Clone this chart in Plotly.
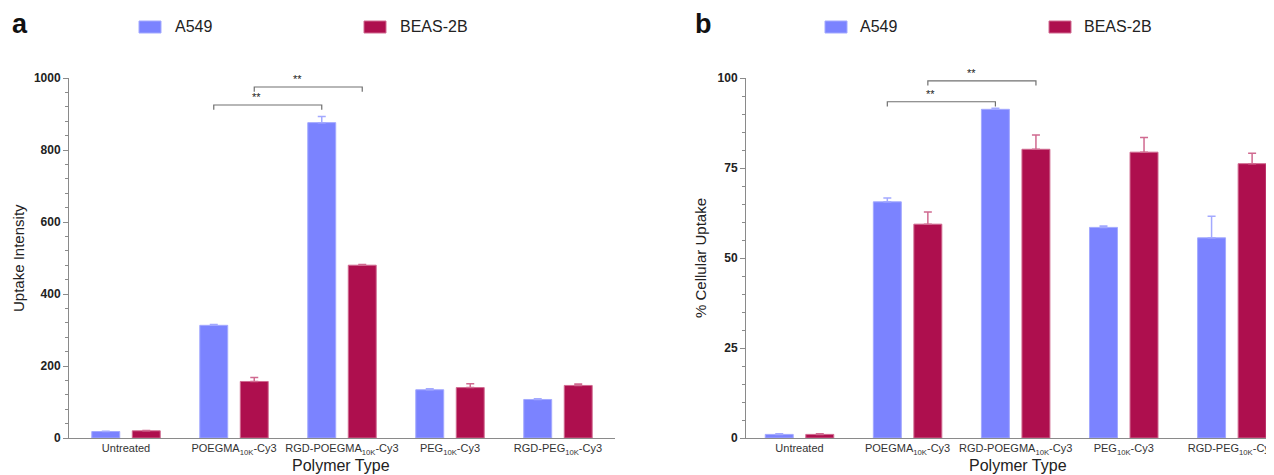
import plotly.graph_objects as go

categories = ["Untreated", "POEGMA<sub>10K</sub>-Cy3", "RGD-POEGMA<sub>10K</sub>-Cy3",
              "PEG<sub>10K</sub>-Cy3", "RGD-PEG<sub>10K</sub>-Cy3"]
series_names = ["A549", "BEAS-2B"]

# Panel a: Uptake intensity
a_a549 = [18, 313, 876, 134, 107]
a_a549_err = [1, 2, 17, 3, 2]
a_beas = [20, 157, 480, 140, 146]
a_beas_err = [1, 11, 2, 11, 4]

# Panel b: % cellular uptake
b_a549 = [1.0, 65.6, 91.3, 58.5, 55.6]
b_a549_err = [0.2, 1.1, 0.3, 0.4, 6.0]
b_beas = [1.0, 59.4, 80.2, 79.4, 76.2]
b_beas_err = [0.2, 3.4, 4.0, 4.1, 2.9]

BLUE = "#7B83FF"
RED = "#AE0F4E"
BLUE_EDGE = "#A3A9FF"
RED_EDGE = "#D06A90"
FONT = "Arial, Liberation Sans, sans-serif"

# The page body adds an 8px margin; the figure is sized to fill the rest of the window.
PAD = 8
W, H = 1274 - PAD, 475 - PAD

def px(X):
    return (X - PAD) / W

def py(Y):
    return 1 - (Y - PAD) / H

fig = go.Figure()

def add_bars(vals, errs, name, color, edge, xa, ya):
    fig.add_trace(go.Bar(
        x=categories, y=vals, name=name, xaxis=xa, yaxis=ya, showlegend=False,
        marker=dict(color=color, line=dict(color=edge, width=1)),
        error_y=dict(type="data", symmetric=False, array=errs,
                     arrayminus=[0] * len(errs), color=edge, thickness=1.5, width=4),
    ))

add_bars(a_a549, a_a549_err, series_names[0], BLUE, BLUE_EDGE, "x", "y")
add_bars(a_beas, a_beas_err, series_names[1], RED, RED_EDGE, "x", "y")
add_bars(b_a549, b_a549_err, series_names[0], BLUE, BLUE_EDGE, "x2", "y2")
add_bars(b_beas, b_beas_err, series_names[1], RED, RED_EDGE, "x2", "y2")

ydom = [py(438), py(78)]
axis_common = dict(showline=True, linecolor="#8A8A8A", linewidth=1, showgrid=False,
                   zeroline=False, automargin=False)
xcommon = dict(axis_common, type="category", ticks="", tickangle=0,
               tickfont=dict(family=FONT, size=11, color="#333333"))
ycommon = dict(axis_common, ticks="outside", ticklen=5, tickcolor="#8A8A8A",
               tickfont=dict(family=FONT, size=12, color="#222222", weight="bold"))

fig.update_layout(
    width=W, height=H, margin=dict(l=0, r=0, t=0, b=0, autoexpand=False),
    paper_bgcolor="white", plot_bgcolor="white", showlegend=False,
    barmode="group", bargap=0.25, bargroupgap=0.31,
    font=dict(family=FONT, color="#222222"),
    xaxis=dict(xcommon, domain=[px(69), px(615)], range=[-0.528, 4.528], anchor="y"),
    yaxis=dict(ycommon, domain=ydom, range=[0, 1000], tickvals=[0, 200, 400, 600, 800, 1000],
               minor=dict(dtick=40, ticks="outside", ticklen=3, tickcolor="#8A8A8A"),
               anchor="x"),
    xaxis2=dict(xcommon, domain=[px(746), 1.0], range=[-0.495, 4.39], anchor="y2"),
    yaxis2=dict(ycommon, domain=ydom, range=[0, 100], tickvals=[0, 25, 50, 75, 100],
                minor=dict(dtick=5, ticks="outside", ticklen=3, tickcolor="#8A8A8A"),
                anchor="x2"),
)

# Legends (one per panel), drawn as coloured keys with text labels
legend_items = [
    (139, 173, BLUE, BLUE_EDGE, series_names[0]),
    (364, 398, RED, RED_EDGE, series_names[1]),
    (825, 858, BLUE, BLUE_EDGE, series_names[0]),
    (1049, 1082, RED, RED_EDGE, series_names[1]),
]
for x0, xt, col, edge, name in legend_items:
    fig.add_shape(type="rect", xref="paper", yref="paper",
                  x0=px(x0), x1=px(x0 + 22), y0=py(33), y1=py(21),
                  fillcolor=col, line=dict(color=edge, width=1))
    fig.add_annotation(x=px(xt), y=py(27), xref="paper", yref="paper", text=name,
                       showarrow=False, xanchor="left", yanchor="middle",
                       font=dict(family=FONT, size=16, color="#222222"))

# Significance brackets (bar-centre offsets follow from the bargap settings)
off = (1 - 0.25) / 4
def bracket(xref, yref, c1, c2, yv, drop, label):
    x1, x2 = c1, c2
    fig.add_shape(type="path", xref=xref, yref=yref,
                  path=f"M {x1},{yv - drop} L {x1},{yv} L {x2},{yv} L {x2},{yv - drop}",
                  line=dict(color="#707070", width=1.2))
    fig.add_annotation(x=(x1 + x2) / 2 - 0.1, y=yv, xref=xref, yref=yref, text=label,
                       showarrow=False, yanchor="bottom", yshift=0,
                       font=dict(family=FONT, size=11, color="#222222"))

bracket("x", "y", 1 - off, 2 - off, 925, 13, "**")
bracket("x", "y", 1 + off, 2 + off, 975, 13, "**")
bracket("x2", "y2", 1 - off, 2 - off, 93.4, 1.3, "**")
bracket("x2", "y2", 1 + off, 2 + off, 99.2, 1.3, "**")

# Panel letters and axis titles
for txt, X in [("a", 20), ("b", 703)]:
    fig.add_annotation(x=px(X), y=py(24), xref="paper", yref="paper", text=f"<b>{txt}</b>",
                       showarrow=False, xanchor="center", yanchor="middle",
                       font=dict(family=FONT, size=27, color="#111111"))
for txt, X in [("Uptake Intensity", 18), ("% Cellular Uptake", 700)]:
    fig.add_annotation(x=px(X), y=py(258), xref="paper", yref="paper", text=txt,
                       showarrow=False, textangle=-90, xanchor="center", yanchor="middle",
                       font=dict(family=FONT, size=15, color="#222222"))
for X in [341, 1018]:
    fig.add_annotation(x=px(X), y=py(465), xref="paper", yref="paper", text="Polymer Type",
                       showarrow=False, xanchor="center", yanchor="middle",
                       font=dict(family=FONT, size=16, color="#222222"))

fig.write_html("out.html")
